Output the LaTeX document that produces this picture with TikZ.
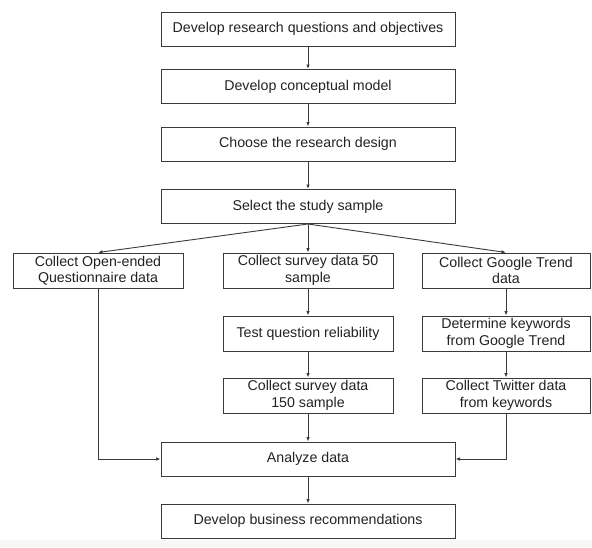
\documentclass[tikz,border=0pt]{standalone}
\usepackage{fontspec}
\setmainfont{Liberation Sans}
\usetikzlibrary{arrows.meta}
\definecolor{ln}{HTML}{3A3A3A}
\definecolor{tx}{HTML}{222222}
\begin{document}
\begin{tikzpicture}[x=1pt,y=-1pt,
  box/.style={draw=ln,line width=1pt,rectangle,inner sep=0pt,align=center,
    text=tx,font=\fontsize{14.2}{16.5}\selectfont},
  wide/.style={box,minimum width=294pt,minimum height=34pt},
  small/.style={box,minimum width=170pt,minimum height=35pt},
  arr/.style={draw=ln,line width=0.9pt,-{Latex[length=4.5pt,width=3.6pt]}}]
\useasboundingbox (0,0) rectangle (592,547);
\fill[black!3] (0,540) rectangle (592,547);
\node[wide] (q) at (308,29) {Develop research questions and objectives};
\node[wide] (cm) at (308,86.5) {Develop conceptual model};
\node[wide] (rd) at (308,144) {Choose the research design};
\node[wide] (ss) at (308,206.5) {Select the study sample};
\node[small] (oe) at (98,270.5) {Collect Open-ended\\Questionnaire data};
\node[small] (s50) at (308,270.5) {Collect survey data 50\\sample};
\node[small,minimum width=168pt] (gt) at (506,270.5) {Collect Google Trend\\data};
\node[small] (tq) at (308,333.5) {Test question reliability};
\node[small,minimum width=168pt] (dk) at (506,333.5) {Determine keywords\\from Google Trend};
\node[small] (s150) at (308,395.5) {Collect survey data\\150 sample};
\node[small,minimum width=168pt] (tw) at (506,395.5) {Collect Twitter data\\from keywords};
\node[wide] (an) at (308,459) {Analyze data};
\node[wide] (br) at (308,521) {Develop business recommendations};
\draw[arr] (q) -- (cm);
\draw[arr] (cm) -- (rd);
\draw[arr] (rd) -- (ss);
\draw[arr] (ss.south) -- (oe.north);
\draw[arr] (ss.south) -- (s50.north);
\draw[arr] (ss.south) -- (gt.north);
\draw[arr] (s50) -- (tq);
\draw[arr] (tq) -- (s150);
\draw[arr] (gt) -- (dk);
\draw[arr] (dk) -- (tw);
\draw[arr] (s150) -- (an);
\draw[arr] (oe.south) |- (an.west);
\draw[arr] (tw.south) |- (an.east);
\draw[arr] (an) -- (br);
\end{tikzpicture}
\end{document}
